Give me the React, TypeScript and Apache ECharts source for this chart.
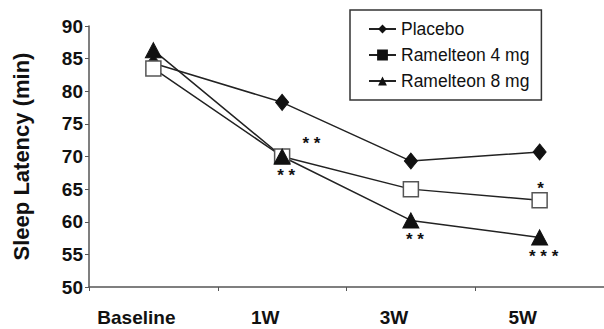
import React, { useEffect, useRef } from "react";
import * as echarts from "echarts";

const categories = ["Baseline", "1W", "3W", "5W"];
const placebo = [84.3, 78.3, 69.3, 70.7];
const ram4 = [83.5, 70.0, 65.0, 63.3];
const ram8 = [86.3, 70.0, 60.2, 57.6];
const yTicks = [50, 55, 60, 65, 70, 75, 80, 85, 90];
// significance marks per category index: [text, position]
const ram4Marks: Record<number, [string, string]> = { 1: ["* *", "right"], 3: ["*", "top"] };
const ram8Marks: Record<number, [string, string]> = { 1: ["* *", "bottom"], 2: ["* *", "bottom"], 3: ["* * *", "bottom"] };

const FONT = "Liberation Sans, Arial, sans-serif";

function withMarks(vals: number[], marks: Record<number, [string, string]>) {
  return vals.map((v, i) => {
    if (!marks[i]) return v;
    const pos = marks[i][1];
    const offset = pos === "right" ? [0, -13] : pos === "top" ? [1, 5] : [4, 0];
    return {
      value: v,
      label: {
        show: true,
        formatter: marks[i][0],
        position: pos as any,
        distance: pos === "right" ? 12 : pos === "top" ? 0 : 3,
        offset,
        fontFamily: FONT,
        fontWeight: "bold",
        fontSize: 17,
        color: "#111",
      },
    };
  });
}

export default function App() {
  const ref = useRef<HTMLDivElement>(null);
  useEffect(() => {
    const chart = echarts.init(ref.current!, null, { renderer: "svg" });
    chart.setOption({
      animation: false,
      backgroundColor: "#fff",
      grid: { left: 89, top: 26, right: -5, bottom: 42 },
      legend: {
        orient: "vertical",
        left: 350,
        top: 10,
        padding: [10, 12, 10, 18],
        itemGap: 8,
        itemWidth: 27,
        itemHeight: 11,
        borderColor: "#333",
        borderWidth: 1.5,
        textStyle: { fontFamily: FONT, fontSize: 17.5, color: "#111", padding: [0, 0, 0, 0] },
        data: [
          { name: "Placebo" },
          { name: "Ramelteon 4 mg", itemStyle: { color: "#111", borderColor: "#111" } },
          { name: "Ramelteon 8 mg" },
        ],
      },
      xAxis: {
        type: "category",
        data: categories,
        boundaryGap: true,
        axisLine: { lineStyle: { color: "#555", width: 1.5 } },
        axisTick: { show: true, length: 4, lineStyle: { color: "#555" } },
        axisLabel: {
          fontFamily: FONT,
          fontWeight: "bold",
          fontSize: 19,
          color: "#111",
          margin: 21,
          interval: 0,
          padding: [0, 34, 0, 0],
        },
      },
      yAxis: {
        type: "value",
        min: yTicks[0],
        max: yTicks[yTicks.length - 1],
        interval: 5,
        name: "Sleep Latency (min)",
        nameLocation: "middle",
        nameGap: 57,
        nameTextStyle: { fontFamily: FONT, fontWeight: "bold", fontSize: 22, color: "#111" },
        splitLine: { show: false },
        axisLine: { show: true, lineStyle: { color: "#555", width: 1.5 } },
        axisTick: { show: true, length: 4, lineStyle: { color: "#555" } },
        axisLabel: {
          fontFamily: FONT,
          fontWeight: "bold",
          fontSize: 19,
          color: "#111",
          margin: 6,
        },
      },
      series: [
        {
          name: "Placebo",
          type: "line",
          data: placebo,
          symbol: "diamond",
          symbolSize: [13, 16],
          lineStyle: { color: "#222", width: 1.5 },
          itemStyle: { color: "#111", borderColor: "#111" },
        },
        {
          name: "Ramelteon 4 mg",
          type: "line",
          data: withMarks(ram4, ram4Marks),
          symbol: "rect",
          symbolSize: 15,
          lineStyle: { color: "#222", width: 1.5 },
          itemStyle: { color: "#fff", borderColor: "#555", borderWidth: 1.5 },
        },
        {
          name: "Ramelteon 8 mg",
          type: "line",
          data: withMarks(ram8, ram8Marks),
          symbol: "triangle",
          symbolSize: [16, 15],
          lineStyle: { color: "#222", width: 1.5 },
          itemStyle: { color: "#111", borderColor: "#111" },
        },
      ],
    });
    return () => chart.dispose();
  }, []);
  return <div ref={ref} style={{ width: 604, height: 329, position: "absolute", left: 0, top: 0 }} />;
}
